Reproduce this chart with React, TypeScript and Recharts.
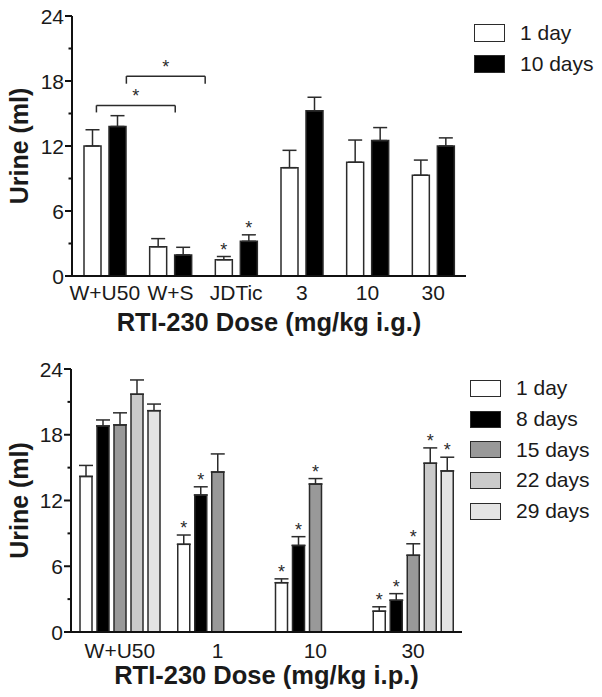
import React from 'react';
import {
  BarChart,
  Bar,
  XAxis,
  YAxis,
  ErrorBar,
  LabelList,
  Legend,
  ReferenceLine,
} from 'recharts';

const FONT = '"Liberation Sans", Arial, Helvetica, sans-serif';
const INK = '#2b2b2b';
const TEXT = '#1a1a1a';

// top panel: RTI-230 given i.g., 1 day vs 10 days
const topCategories = ['W+U50', 'W+S', 'JDTic', '3', '10', '30'];
const top1Day = [12.0, 2.7, 1.5, 10.0, 10.5, 9.3];
const top1DaySem = [1.5, 0.75, 0.3, 1.6, 2.05, 1.4];
const top1DayStar = [false, false, true, false, false, false];
const top10Days = [13.8, 1.95, 3.2, 15.25, 12.5, 12.0];
const top10DaysSem = [1.0, 0.7, 0.6, 1.25, 1.2, 0.75];
const top10DaysStar = [false, false, true, false, false, false];
const topYTicks = [0, 3, 6, 9, 12, 15, 18, 21, 24];

// bottom panel: RTI-230 given i.p., repeated days
const bottomCategories = ['W+U50', '1', '10', '30'];
const bot1Day = [14.2, 8.0, 4.5, 1.9];
const bot1DaySem = [1.0, 0.85, 0.35, 0.4];
const bot1DayStar = [false, true, true, true];
const bot8Days = [18.8, 12.5, 7.9, 2.9];
const bot8DaysSem = [0.55, 0.75, 0.8, 0.6];
const bot8DaysStar = [false, true, true, true];
const bot15Days = [18.9, 14.6, 13.5, 7.0];
const bot15DaysSem = [1.1, 1.65, 0.5, 1.05];
const bot15DaysStar = [false, false, true, true];
const bot22Days = [21.7, null, null, 15.4];
const bot22DaysSem = [1.3, null, null, 1.4];
const bot22DaysStar = [false, false, false, true];
const bot29Days = [20.2, null, null, 14.7];
const bot29DaysSem = [0.6, null, null, 1.25];
const bot29DaysStar = [false, false, false, true];
const bottomYTicks = [0, 3, 6, 9, 12, 15, 18, 21, 24];

type Series = {
  key: string;
  name: string;
  fill: string;
  values: (number | null)[];
  sem: (number | null)[];
  stars: boolean[];
};

const topSeries: Series[] = [
  { key: 'd1', name: '1 day', fill: '#ffffff', values: top1Day, sem: top1DaySem, stars: top1DayStar },
  { key: 'd10', name: '10 days', fill: '#000000', values: top10Days, sem: top10DaysSem, stars: top10DaysStar },
];

const bottomSeries: Series[] = [
  { key: 'd1', name: '1 day', fill: '#ffffff', values: bot1Day, sem: bot1DaySem, stars: bot1DayStar },
  { key: 'd8', name: '8 days', fill: '#000000', values: bot8Days, sem: bot8DaysSem, stars: bot8DaysStar },
  { key: 'd15', name: '15 days', fill: '#999999', values: bot15Days, sem: bot15DaysSem, stars: bot15DaysStar },
  { key: 'd22', name: '22 days', fill: '#cacaca', values: bot22Days, sem: bot22DaysSem, stars: bot22DaysStar },
  { key: 'd29', name: '29 days', fill: '#e4e4e4', values: bot29Days, sem: bot29DaysSem, stars: bot29DaysStar },
];

function buildRows(categories: string[], series: Series[]) {
  return categories.map((name, i) => {
    const row: Record<string, unknown> = { name };
    series.forEach((s) => {
      row[s.key] = s.values[i];
      // one-sided (upward) error bars
      row[s.key + 'Err'] = s.sem[i] == null ? null : [0, s.sem[i]];
    });
    return row;
  });
}

const topData = buildRows(topCategories, topSeries);
const bottomData = buildRows(bottomCategories, bottomSeries);

// significance brackets on the top panel (hidden numeric x axis, 0..6)
const topBrackets = [
  { x1: 0.31, x2: 1.31, y: 15.75, leg: 15.1 },
  { x1: 0.69, x2: 1.69, y: 18.45, leg: 17.75 },
];

const YTick = (props: any) => {
  const { x, y, payload } = props;
  const axisX = x + 8;
  const major = payload.value % 6 === 0;
  return (
    <g>
      <line x1={axisX - (major ? 7 : 3.5)} x2={axisX} y1={y} y2={y} stroke="#111" strokeWidth={2} />
      {major && (
        <text x={x} y={y} dy="0.36em" textAnchor="end" fontSize={21} fill={TEXT} fontFamily={FONT}>
          {payload.value}
        </text>
      )}
    </g>
  );
};

function starLabel(s: Series) {
  return (props: any) => {
    const { x, y, width, height, value } = props;
    // bars with null values are skipped, so find the category from the value
    const i = s.values.findIndex((v) => v != null && v === Number(value));
    if (i < 0) return null;
    const v = s.values[i] as number;
    const e = s.sem[i];
    if (!s.stars[i] || e == null || !height) return null;
    const top = Number(y) - (e * Number(height)) / v;
    return (
      <text
        key={`star-${s.key}-${i}`}
        x={Number(x) + Number(width) / 2}
        y={top - 1}
        textAnchor="middle"
        fontSize={18}
        fill={INK}
        fontFamily={FONT}
      >
        *
      </text>
    );
  };
}

const LegendBox = ({ items, rowH, boxH }: { items: Series[]; rowH: number; boxH: number }) => (
  <div style={{ fontFamily: FONT, fontSize: 21, color: TEXT }}>
    {items.map((s) => (
      <div key={s.name} style={{ display: 'flex', alignItems: 'center', height: rowH }}>
        <span
          style={{
            display: 'inline-block',
            width: 31,
            height: boxH,
            boxSizing: 'border-box',
            border: `1.5px solid ${INK}`,
            background: s.fill,
            marginRight: 15,
          }}
        />
        <span>{s.name}</span>
      </div>
    ))}
  </div>
);

const axisLine = { stroke: '#111', strokeWidth: 2 };

function renderBars(series: Series[]) {
  return series.map((s) => (
    <Bar
      key={s.key}
      dataKey={s.key}
      name={s.name}
      fill={s.fill}
      stroke={INK}
      strokeWidth={1.5}
      isAnimationActive={false}
    >
      <ErrorBar
        dataKey={s.key + 'Err'}
        width={7}
        stroke={INK}
        strokeWidth={1.5}
        direction="y"
        isAnimationActive={false}
      />
      <LabelList dataKey={s.key} content={starLabel(s)} />
    </Bar>
  ));
}

const titleLabel = {
  fontSize: 25.5,
  fontWeight: 700,
  fill: TEXT,
  fontFamily: FONT,
};

export default function App() {
  return (
    <div style={{ position: 'absolute', left: 0, top: 0, width: 602, height: 697, background: '#fff' }}>
      <div style={{ position: 'absolute', left: 0, top: 0 }}>
        <BarChart
          width={602}
          height={340}
          data={topData}
          margin={{ top: 16, right: 136, left: 0, bottom: 0 }}
          barSize={17}
          barGap={8}
        >
          <XAxis
            dataKey="name"
            axisLine={axisLine}
            tickLine={false}
            tickSize={0}
            tickMargin={9}
            interval={0}
            height={64}
            tick={{ fontSize: 21, fill: TEXT, fontFamily: FONT }}
            label={{
              value: 'RTI-230 Dose (mg/kg i.g.)',
              position: 'insideBottom',
              offset: 9,
              ...titleLabel,
            }}
          />
          <XAxis xAxisId="br" type="number" domain={[0, 6]} allowDataOverflow hide />
          <YAxis
            domain={[0, 24]}
            ticks={topYTicks}
            interval={0}
            width={72}
            tickSize={7}
            tickMargin={1}
            tickLine={false}
            axisLine={axisLine}
            tick={<YTick />}
            label={{
              value: 'Urine (ml)',
              angle: -90,
              position: 'insideLeft',
              offset: 19,
              ...titleLabel,
              fontSize: 25,
              style: { textAnchor: 'middle' },
            }}
          />
          <Legend
            layout="vertical"
            align="center"
            verticalAlign="middle"
            wrapperStyle={{ top: 17.5, left: 474, width: 128 }}
            content={() => <LegendBox items={topSeries} rowH={31} boxH={18} />}
          />
          {renderBars(topSeries)}
          {topBrackets.map((b, i) => [
            <ReferenceLine
              key={`bh-${i}`}
              xAxisId="br"
              segment={[{ x: b.x1, y: b.y }, { x: b.x2, y: b.y }]}
              stroke={INK}
              strokeWidth={1.5}
              ifOverflow="visible"
              label={{ value: '*', position: 'top', offset: 3, fontSize: 18, fill: INK, fontFamily: FONT }}
            />,
            <ReferenceLine
              key={`bl-${i}`}
              xAxisId="br"
              segment={[{ x: b.x1, y: b.leg }, { x: b.x1, y: b.y }]}
              stroke={INK}
              strokeWidth={1.5}
              ifOverflow="visible"
            />,
            <ReferenceLine
              key={`br-${i}`}
              xAxisId="br"
              segment={[{ x: b.x2, y: b.leg }, { x: b.x2, y: b.y }]}
              stroke={INK}
              strokeWidth={1.5}
              ifOverflow="visible"
            />,
          ])}
        </BarChart>
      </div>
      <div style={{ position: 'absolute', left: 0, top: 350 }}>
        <BarChart
          width={602}
          height={347}
          data={bottomData}
          margin={{ top: 19, right: 140, left: 0, bottom: 0 }}
          barSize={12}
          barGap={5}
        >
          <XAxis
            dataKey="name"
            axisLine={axisLine}
            tickLine={false}
            tickSize={0}
            tickMargin={11}
            interval={0}
            height={65}
            tick={{ fontSize: 21, fill: TEXT, fontFamily: FONT }}
            label={{
              value: 'RTI-230 Dose (mg/kg i.p.)',
              position: 'insideBottom',
              offset: 13,
              ...titleLabel,
            }}
          />
          <YAxis
            domain={[0, 24]}
            ticks={bottomYTicks}
            interval={0}
            width={71}
            tickSize={7}
            tickMargin={1}
            tickLine={false}
            axisLine={axisLine}
            tick={<YTick />}
            label={{
              value: 'Urine (ml)',
              angle: -90,
              position: 'insideLeft',
              offset: 19,
              ...titleLabel,
              fontSize: 25,
              style: { textAnchor: 'middle' },
            }}
          />
          <Legend
            layout="vertical"
            align="center"
            verticalAlign="middle"
            wrapperStyle={{ top: 23, left: 470, width: 132 }}
            content={() => <LegendBox items={bottomSeries} rowH={30.7} boxH={17} />}
          />
          {renderBars(bottomSeries)}
        </BarChart>
      </div>
    </div>
  );
}
